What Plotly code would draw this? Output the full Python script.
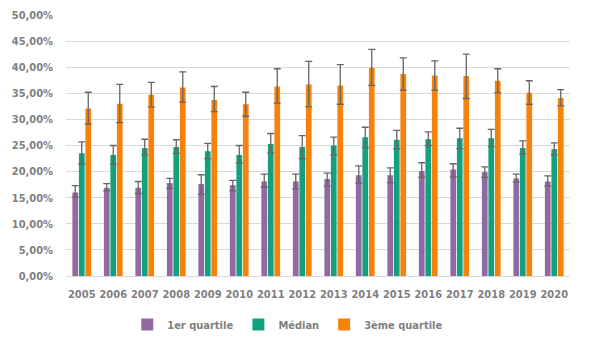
import plotly.graph_objects as go

years = [str(y) for y in range(2005, 2021)]

q1 = [16.0, 16.9, 16.9, 17.8, 17.6, 17.4, 18.1, 18.1, 18.6, 19.3, 19.3, 20.1, 20.4, 19.9, 18.7, 18.1]
q1_hi = [17.3, 17.7, 18.1, 18.7, 19.4, 18.3, 19.5, 19.5, 19.7, 21.1, 20.7, 21.7, 21.5, 20.9, 19.5, 19.2]
q1_lo = [15.1, 16.3, 15.8, 16.8, 15.7, 16.3, 17.0, 16.7, 17.2, 17.8, 17.9, 18.9, 19.0, 18.9, 18.0, 17.2]

med = [23.5, 23.2, 24.5, 24.7, 23.9, 23.2, 25.3, 24.7, 25.0, 26.6, 26.1, 26.2, 26.4, 26.4, 24.5, 24.3]
med_hi = [25.7, 25.0, 26.2, 26.1, 25.4, 25.0, 27.3, 26.9, 26.6, 28.5, 27.9, 27.6, 28.3, 28.1, 25.9, 25.5]
med_lo = [21.5, 21.4, 23.2, 23.5, 22.5, 21.6, 23.6, 22.5, 23.2, 24.6, 24.4, 25.0, 24.4, 24.8, 23.4, 23.2]

q3 = [32.1, 33.0, 34.7, 36.1, 33.7, 32.9, 36.3, 36.7, 36.5, 39.9, 38.7, 38.4, 38.3, 37.4, 35.1, 34.1]
q3_hi = [35.2, 36.7, 37.1, 39.1, 36.3, 35.2, 39.7, 41.1, 40.5, 43.4, 41.8, 41.2, 42.5, 39.7, 37.4, 35.7]
q3_lo = [29.1, 29.4, 32.4, 33.3, 31.5, 30.6, 33.1, 32.4, 32.9, 36.5, 35.6, 35.6, 34.0, 35.1, 32.9, 32.6]

series = [
    ("1er quartile", q1, q1_hi, q1_lo, "#9369a2"),
    ("Médian", med, med_hi, med_lo, "#12a07e"),
    ("3ème quartile", q3, q3_hi, q3_lo, "#f5820a"),
]

FONT = "DejaVu Sans Condensed"
fig = go.Figure()
for name, v, hi, lo, col in series:
    fig.add_trace(go.Bar(
        name=name,
        x=years,
        y=[a / 100 for a in v],
        marker=dict(color=col, line=dict(width=0)),
        error_y=dict(
            type="data",
            symmetric=False,
            array=[(h - a) / 100 for h, a in zip(hi, v)],
            arrayminus=[(a - l) / 100 for l, a in zip(lo, v)],
            color="#666666",
            thickness=1.3,
            width=3.5,
        ),
    ))

# the page body adds an 8px offset, so margins compensate for it
fig.update_layout(
    width=600,
    height=356,
    margin=dict(l=58, r=38, t=7, b=88),
    paper_bgcolor="white",
    plot_bgcolor="white",
    barmode="group",
    bargap=0.38,
    bargroupgap=0.12,
    separators=", ",
    font=dict(family=FONT, size=11, color="#7f7f7f"),
    showlegend=True,
    legend=dict(
        orientation="h",
        x=0.44,
        xanchor="center",
        y=-0.13,
        yanchor="top",
        font=dict(family=FONT, size=11, color="#7f7f7f", weight="bold"),
        itemwidth=30,
        traceorder="normal",
    ),
    xaxis=dict(
        showgrid=False,
        showline=True,
        linecolor="#d9d9d9",
        linewidth=1,
        ticks="",
        tickangle=0,
        automargin=False,
        ticklabelstandoff=8,
        tickfont=dict(family=FONT, size=11, color="#7f7f7f", weight="bold"),
    ),
    yaxis=dict(
        range=[0, 0.5],
        dtick=0.05,
        tickformat=".2%",
        showgrid=True,
        gridcolor="#d9d9d9",
        gridwidth=1,
        zeroline=False,
        ticks="",
        automargin=False,
        ticklabelstandoff=12,
        tickfont=dict(family=FONT, size=11, color="#7f7f7f", weight="bold"),
    ),
)

fig.write_html("out.html")
